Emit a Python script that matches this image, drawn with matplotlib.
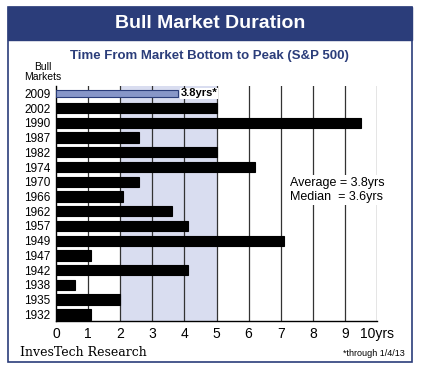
import matplotlib
matplotlib.use('Agg')
import matplotlib.pyplot as plt
from matplotlib.patches import Rectangle

# data (years from market bottom to peak)
markets = ['2009', '2002', '1990', '1987', '1982', '1974', '1970', '1966',
           '1962', '1957', '1949', '1947', '1942', '1938', '1935', '1932']
durations = [3.8, 5.0, 9.5, 2.6, 5.0, 6.2, 2.6, 2.1,
             3.6, 4.1, 7.1, 1.1, 4.1, 0.6, 2.0, 1.1]
xticks = [0, 1, 2, 3, 4, 5, 6, 7, 8, 9, 10]
xticklabels = ['0', '1', '2', '3', '4', '5', '6', '7', '8', '9', '10yrs']

navy = '#2b3d7a'
shade = '#d9ddf0'
narrow = ['Liberation Sans', 'DejaVu Sans']

fig = plt.figure(figsize=(4.26, 3.75), dpi=100)
W, H = 426, 375

# outer frame and title banner
fig.patches.append(Rectangle((8 / W, 1 - 362 / H), 404 / W, 355 / H,
                             transform=fig.transFigure, facecolor='white',
                             edgecolor=navy, linewidth=1.2, zorder=-2))
fig.patches.append(Rectangle((8 / W, 1 - 40 / H), 404 / W, 33 / H,
                             transform=fig.transFigure, facecolor=navy,
                             edgecolor=navy, linewidth=1, zorder=-1))
fig.text(210 / W, 1 - 24 / H, 'Bull Market Duration', color='white',
         fontsize=14, fontweight='bold', family=narrow,
         ha='center', va='center')
fig.text(209 / W, 1 - 56 / H, 'Time From Market Bottom to Peak (S&P 500)',
         color=navy, fontsize=9.5, fontweight='bold', family=narrow,
         ha='center', va='center')
fig.text(43 / W, 1 - 72 / H, 'Bull\nMarkets', fontsize=7.5, family=narrow,
         ha='center', va='center', linespacing=1.1)

ax = fig.add_axes([56 / W, 1 - 321 / H, 321 / W, 235 / H])
ax.set_zorder(1)
ax.set_facecolor('none')

n = len(markets)
ypos = [n - 1 - i for i in range(n)]

ax.axvspan(2, 5, color=shade, zorder=0, lw=0)
for x in xticks[1:]:
    ax.axvline(x, color='#333333', lw=0.9, zorder=1)

colors = ['#8796c8'] + ['black'] * (n - 1)
edges = [navy] + ['black'] * (n - 1)
heights = [0.5] + [0.7] * (n - 1)
ax.barh(ypos, durations, height=heights, color=colors, edgecolor=edges,
        linewidth=0.8, zorder=3)

ax.text(durations[0] + 0.08, ypos[0], '3.8yrs*', fontsize=8, fontweight='bold',
        family=narrow, ha='left', va='center', zorder=4,
        bbox=dict(facecolor='white', edgecolor='none', pad=0.5))
ax.text(7.3, 8.45, 'Average = 3.8yrs\nMedian  = 3.6yrs', fontsize=9,
        family=narrow, ha='left', va='center', zorder=4, linespacing=1.3,
        bbox=dict(facecolor='white', edgecolor='none', pad=1))

ax.set_xlim(0, 10)
ax.set_ylim(-0.45, n - 0.5)
ax.set_yticks(ypos)
ax.set_yticklabels(markets, family=narrow, fontsize=8.5)
ax.set_xticks(xticks)
ax.set_xticklabels(xticklabels, family=narrow, fontsize=10)
ax.tick_params(axis='y', length=0, pad=4)
ax.tick_params(axis='x', length=0, pad=4)
for s in ['top', 'right']:
    ax.spines[s].set_visible(False)
ax.spines['left'].set_linewidth(1)
ax.spines['bottom'].set_linewidth(1)

fig.text(20 / W, 1 - 353 / H, 'InvesTech Research', fontsize=9,
         family=['DejaVu Serif'], ha='left', va='center')
fig.text(405 / W, 1 - 353 / H, '*through 1/4/13', fontsize=6.5,
         family=narrow, ha='right', va='center')

fig.savefig('out.png', dpi=100)
